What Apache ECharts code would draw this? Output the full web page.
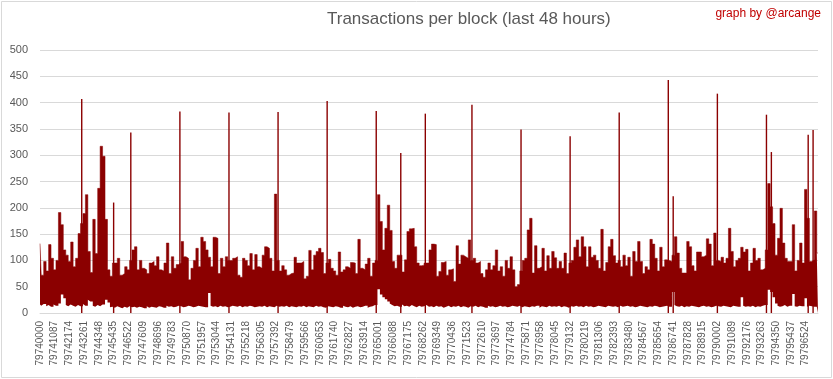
<!DOCTYPE html>
<html><head><meta charset="utf-8">
<script src="https://cdn.jsdelivr.net/npm/echarts@6/dist/echarts.min.js"></script>
<style>html,body{margin:0;padding:0;background:#fff}#c{width:833px;height:379px}</style>
</head><body><div id="c"></div>
<script>
const titleText = 'Transactions per block (last 48 hours)';
const creditText = 'graph by @arcange';
const firstBlock = 79740000;
const blocksPerTick = 1087;
const bucketsPerTick = 6;
const tickLabels = ['79740000','79741087','79742174','79743261','79744348','79745435','79746522','79747609','79748696','79749783','79750870','79751957','79753044','79754131','79755218','79756305','79757392','79758479','79759566','79760653','79761740','79762827','79763914','79765001','79766088','79767175','79768262','79769349','79770436','79771523','79772610','79773697','79774784','79775871','79776958','79778045','79779132','79780219','79781306','79782393','79783480','79784567','79785654','79786741','79787828','79788915','79790002','79791089','79792176','79793263','79794350','79795437','79796524'];
const yTicks = [0, 50, 100, 150, 200, 250, 300, 350, 400, 450, 500];
// typical max transactions per block within each bucket (~181 blocks), isolated spikes excluded
const highs = [
132,72,98,80,130,104,82,100,191,168,
120,110,98,135,88,104,151,170,189,225,
117,77,178,113,237,317,298,178,82,70,
95,95,104,72,75,88,82,100,120,126,
82,100,85,82,75,95,98,90,107,82,
80,95,133,75,107,85,92,95,136,107,
104,63,85,100,123,88,144,136,120,106,
88,144,142,75,104,88,107,100,100,104,
107,72,68,104,100,90,113,82,111,88,
85,110,126,123,104,80,226,100,80,90,
82,72,75,76,106,95,95,98,65,70,
119,82,110,117,123,115,75,95,102,85,
80,72,116,78,82,88,85,96,95,75,
140,85,82,93,104,70,95,100,225,174,
120,161,205,157,98,85,110,110,78,101,
155,160,161,126,95,90,91,95,95,120,
131,130,70,79,96,98,72,82,84,60,
128,93,110,107,104,139,100,104,95,98,
75,68,82,95,82,90,120,80,88,70,
100,85,107,82,50,54,80,100,104,158,
180,76,128,85,88,123,80,109,85,117,
105,85,98,85,114,75,95,100,125,139,
107,145,126,88,126,106,110,100,85,159,
80,96,126,140,109,95,100,88,110,90,
106,70,117,98,136,98,75,88,82,140,
131,104,80,125,88,101,100,98,110,145,
114,85,76,76,136,126,90,80,116,116,
107,110,141,131,90,152,100,98,106,95,
104,161,117,88,100,104,125,116,121,80,
95,123,100,104,82,85,120,246,202,170,
110,142,199,133,104,98,98,168,80,100,
133,95,235,180,98,101,194,114];
// min transactions per block within each bucket
const lows = [
16,14,17,13,15,12,16,14,18,35,
28,15,13,16,14,12,15,13,17,14,
25,22,14,12,15,13,16,25,20,11,
12,10,13,11,9,12,10,13,11,12,
10,12,11,9,13,10,12,11,10,13,
12,10,14,12,13,11,12,14,13,11,
12,14,13,11,12,14,13,12,11,38,
14,12,13,11,14,12,13,11,12,14,
13,12,14,11,13,12,14,13,11,12,
13,12,14,11,13,12,11,14,12,13,
12,14,11,13,12,11,13,12,14,11,
13,12,11,14,12,13,11,10,13,12,
11,13,12,10,14,12,11,13,10,12,
13,11,12,14,10,12,13,15,45,35,
30,26,22,18,15,13,14,12,16,13,
14,12,15,13,11,14,12,13,15,12,
13,11,14,12,13,10,12,14,11,13,
12,14,11,13,12,10,13,12,14,11,
13,12,10,14,12,13,11,12,14,12,
13,11,12,14,13,12,14,11,13,12,
11,13,12,14,10,13,12,11,14,12,
13,12,14,11,13,12,10,13,12,14,
12,13,11,14,12,13,11,12,14,13,
12,11,14,13,12,13,11,14,12,13,
14,12,13,11,12,14,13,12,11,13,
12,14,13,11,12,13,14,12,40,15,
13,12,14,11,13,12,14,13,12,11,
13,14,12,13,11,12,14,13,12,14,
13,12,11,14,13,12,30,14,12,13,
12,14,11,13,12,14,15,44,40,30,
18,14,12,13,15,12,14,36,13,12,
14,13,28,12,14,13,12,0];
// single-block spikes: bucket index and transaction count
const spikeBuckets = [17, 30, 37, 57, 77, 97, 117, 137, 147, 157, 176, 196, 216, 236, 256, 258, 276, 296, 298, 313, 315];
const spikeValues  = [407, 210, 343, 383, 381, 382, 403, 384, 304, 379, 396, 349, 336, 381, 443, 222, 417, 377, 306, 339, 348];

const categories = highs.map((_, i) => i % bucketsPerTick === 0
  ? tickLabels[i / bucketsPerTick]
  : String(firstBlock + Math.round(i * blocksPerTick / bucketsPerTick)));
const spans = highs.map((h, i) => h - lows[i]);
const spikeData = highs.map(() => null);
spikeBuckets.forEach((b, k) => { spikeData[b] = spikeValues[k]; });

const chart = echarts.init(document.getElementById('c'), null, {renderer: 'canvas'});
chart.setOption({
  animation: false,
  backgroundColor: '#ffffff',
  title: {
    text: titleText, left: 327, top: 11, padding: 0,
    textStyle: {fontFamily: 'Liberation Sans', fontSize: 17, fontWeight: 'normal', color: '#595959'}
  },
  graphic: [
    {type: 'rect', shape: {x: 1.5, y: 1.5, width: 830, height: 376}, style: {fill: 'none', stroke: '#d9d9d9', lineWidth: 1}, silent: true},
    {type: 'text', right: 12, top: 8, style: {text: creditText, fill: '#c00000', font: '12px "Liberation Sans"'}}
  ],
  grid: {left: 40, right: 15, top: 50, bottom: 66},
  xAxis: {
    type: 'category', data: categories, boundaryGap: false,
    axisLine: {lineStyle: {color: '#d9d9d9', width: 1}},
    axisTick: {show: false},
    axisLabel: {
      interval: (i) => i % bucketsPerTick === 0, rotate: 90, margin: 8,
      fontFamily: 'Liberation Sans', fontSize: 10, color: '#595959'
    },
    splitLine: {show: false}
  },
  yAxis: {
    type: 'value', min: yTicks[0], max: yTicks[yTicks.length - 1], interval: yTicks[1] - yTicks[0],
    axisLine: {show: false}, axisTick: {show: false},
    axisLabel: {margin: 12, fontFamily: 'Liberation Sans', fontSize: 11, color: '#595959'},
    splitLine: {lineStyle: {color: '#d9d9d9', width: 1}}
  },
  series: [
    {type: 'line', stack: 'tx', data: lows, silent: true, step: 'middle',
     showSymbol: false, symbol: 'none', lineStyle: {opacity: 0, width: 0}},
    {type: 'line', stack: 'tx', data: spans, silent: true, step: 'middle',
     showSymbol: false, symbol: 'none',
     lineStyle: {color: '#8b0000', width: 0.5},
     areaStyle: {color: '#8b0000', opacity: 1}},
    {type: 'bar', data: spikeData, silent: true, barWidth: 1.4,
     itemStyle: {color: '#8b0000'}}
  ]
});
</script>
</body></html>
